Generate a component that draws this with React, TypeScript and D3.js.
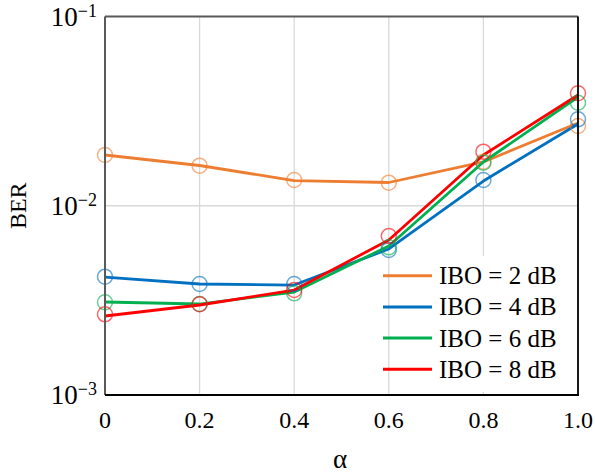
import React from "react";
import * as d3 from "d3";

const alphas = [0, 0.2, 0.4, 0.6, 0.8, 1.0];
const xTickLabels = ["0", "0.2", "0.4", "0.6", "0.8", "1.0"];
const yTickExps = [-1, -2, -3];

const seriesNames = ["IBO = 2 dB", "IBO = 4 dB", "IBO = 6 dB", "IBO = 8 dB"];
const seriesColors = ["#ED7D31", "#0070C0", "#00B050", "#FF0000"];

// line vertices
const ibo2Line = [0.01854, 0.01632, 0.01359, 0.01327, 0.01703, 0.02737];
const ibo4Line = [0.0042, 0.00386, 0.00381, 0.00591, 0.01351, 0.02704];
const ibo6Line = [0.0031, 0.003025, 0.0035, 0.006127, 0.01703, 0.03755];
const ibo8Line = [0.002615, 0.002989, 0.003587, 0.006592, 0.01854, 0.03847];

// circle markers
const ibo2Marks = [0.01854, 0.01628, 0.01368, 0.01324, 0.01709, 0.02638];
const ibo4Marks = [0.00422, 0.00386, 0.00386, 0.005836, 0.01368, 0.02862];
const ibo6Marks = [0.003089, 0.003025, 0.003445, 0.006031, 0.01689, 0.03503];
const ibo8Marks = [0.002669, 0.003016, 0.003587, 0.006922, 0.01931, 0.03929];

const lines = [ibo2Line, ibo4Line, ibo6Line, ibo8Line];
const marks = [ibo2Marks, ibo4Marks, ibo6Marks, ibo8Marks];

const W = 595;
const H = 474;
const L = 105, R = 578, T = 16.5, B = 395;

export default function App() {
  const x = d3.scaleLinear().domain([0, 1]).range([L, R]);
  const y = d3.scaleLog().domain([1e-3, 1e-1]).range([B, T]);
  const line = d3
    .line<number>()
    .x((_, i) => x(alphas[i]))
    .y((d) => y(d));
  const font = "'Liberation Serif', 'Times New Roman', serif";
  const legX0 = 383, legX1 = 432, legY0 = 275.7, legDy = 31.2;

  return (
    <svg
      width={W}
      height={H}
      style={{ position: "absolute", left: 0, top: 0, background: "#fff" }}
      fontFamily={font}
    >
      <rect x={0} y={0} width={W} height={H} fill="#fff" />
      {/* grid */}
      {alphas.slice(1, -1).map((a, i) => (
        <line key={"gx" + i} x1={x(a)} x2={x(a)} y1={T} y2={B} stroke="#d9d9d9" strokeWidth={1.3} />
      ))}
      <line x1={L} x2={R} y1={y(1e-2)} y2={y(1e-2)} stroke="#d9d9d9" strokeWidth={1.3} />

      {/* legend background */}
      <rect x={391} y={256} width={R - 391} height={392 - 256} fill="#fff" />

      {/* series lines */}
      {lines.map((s, k) => (
        <path key={"l" + k} d={line(s) || ""} fill="none" stroke={seriesColors[k]} strokeWidth={2.8} strokeLinejoin="round" />
      ))}
      {/* markers */}
      {marks.map((s, k) =>
        s.map((v, i) => (
          <circle
            key={"m" + k + "-" + i}
            cx={x(alphas[i])}
            cy={y(v)}
            r={7.5}
            fill="none"
            stroke={seriesColors[k]}
            strokeOpacity={0.6}
            strokeWidth={1.5}
          />
        ))
      )}

      {/* frame */}
      <line x1={L} x2={R} y1={T} y2={T} stroke="#595959" strokeWidth={2} />
      <line x1={L} x2={L} y1={T} y2={B} stroke="#595959" strokeWidth={2} />
      <line x1={L} x2={R + 1} y1={B} y2={B} stroke="#000" strokeWidth={1.8} />
      <line x1={R} x2={R} y1={T} y2={B} stroke="#000" strokeWidth={1.8} />

      {/* x tick labels */}
      {alphas.map((a, i) => (
        <text key={"xt" + i} x={x(a)} y={428} textAnchor="middle" fontSize={24} fill="#000">
          {xTickLabels[i]}
        </text>
      ))}
      {/* y tick labels */}
      {yTickExps.map((e) => (
        <text key={"yt" + e} x={97} y={y(Math.pow(10, e)) + 9} textAnchor="end" fontSize={27} fill="#000">
          10
          <tspan fontSize={18} dy={-9}>
            {"\u2212" + Math.abs(e)}
          </tspan>
        </text>
      ))}

      {/* axis titles */}
      <text x={340} y={468} textAnchor="middle" fontSize={27} fill="#000">
        α
      </text>
      <text
        transform={`translate(26, ${(T + B) / 2}) rotate(-90)`}
        textAnchor="middle"
        fontSize={24}
        fill="#000"
      >
        BER
      </text>

      {/* legend */}
      {seriesNames.map((n, k) => (
        <g key={"lg" + k}>
          <line
            x1={legX0}
            x2={legX1}
            y1={legY0 + k * legDy}
            y2={legY0 + k * legDy}
            stroke={seriesColors[k]}
            strokeWidth={3}
          />
          <text x={439} y={legY0 + k * legDy + 8.5} fontSize={25} fill="#000">
            {n}
          </text>
        </g>
      ))}
    </svg>
  );
}
